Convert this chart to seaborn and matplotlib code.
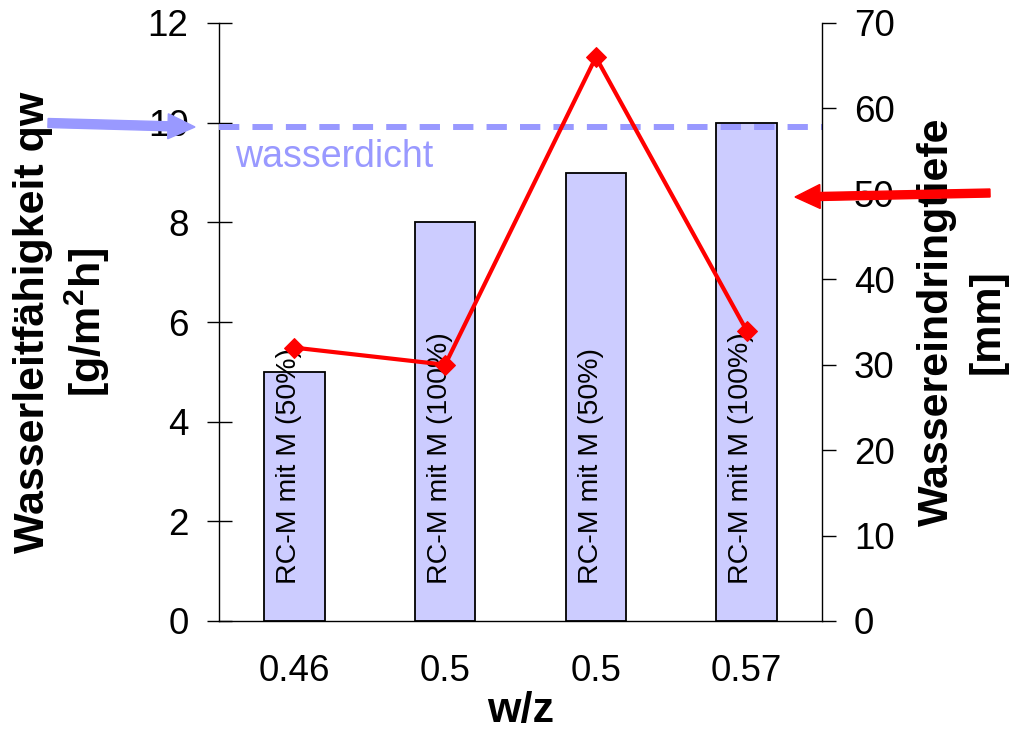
import numpy as np
import pandas as pd
import matplotlib
matplotlib.use("Agg")
import matplotlib.pyplot as plt
from matplotlib.patches import FancyArrow
import seaborn as sns

# ---- data ----
wz_labels = ["0.46", "0.5", "0.5", "0.57"]
bar_labels = ["RC-M mit M (50%)", "RC-M mit M (100%)", "RC-M mit M (50%)", "RC-M mit M (100%)"]
qw_values = [5.0, 8.0, 9.0, 10.0]           # Wasserleitfähigkeit qw [g/m²h]
depth_values = [32.0, 30.0, 66.0, 34.0]     # Wassereindringtiefe [mm]
wasserdicht_level = 9.92                    # on left axis

sns.set_style("white")
plt.rcParams["font.family"] = ["Liberation Sans", "DejaVu Sans"]
plt.rcParams.update({
    "text.color": "black", "axes.labelcolor": "black",
    "xtick.color": "black", "ytick.color": "black",
    "mathtext.fontset": "custom",
    "mathtext.rm": "Liberation Sans",
    "mathtext.bf": "Liberation Sans:bold",
})

df = pd.DataFrame({"pos": np.arange(len(qw_values)), "qw": qw_values,
                   "depth": depth_values, "probe": bar_labels})

fig = plt.figure(figsize=(10.18, 7.33), dpi=100)
ax = fig.add_axes([219/1018, 1-621/733, (822-219)/1018, (621-23)/733])

sns.barplot(data=df, x="pos", y="qw", ax=ax, color="#CCCCFF", saturation=1,
            edgecolor="black", linewidth=1.3, width=0.4, zorder=2)

ax.set_xlim(-0.5, len(qw_values) - 0.5)
ax.set_ylim(0, 12)
ax.set_yticks(np.arange(0, 13, 2))
ax.set_xticks(np.arange(len(qw_values)))
ax.set_xticklabels(wz_labels)
ax.set_xticks(np.arange(-0.5, len(qw_values), 1.0), minor=True)
ax.tick_params(axis="x", which="major", length=0, pad=24, labelsize=26.5)
ax.tick_params(axis="x", which="minor", direction="inout", length=18, width=1, color="black")
ax.tick_params(axis="y", direction="inout", length=18, width=1, color="black",
               pad=13, labelsize=26.5, left=True)

for s in ["top", "right"]:
    ax.spines[s].set_visible(False)
for s in ["left", "bottom"]:
    ax.spines[s].set_color("black")
    ax.spines[s].set_linewidth(1)

# waterproof line
ax.axhline(wasserdicht_level, color="#9999FF", lw=4.3, linestyle=(0, (3.4, 2.2)), zorder=3)
ax.text(-0.394, 9.11, "wasserdicht", color="#9999FF", fontsize=27, va="baseline", ha="left")

# bar labels
for i, lab in enumerate(bar_labels):
    ax.text(i - 0.035, 0.75, lab, rotation=90, ha="center", va="bottom", fontsize=20.5, zorder=4)

ax.set_xlabel("w/z", fontsize=31, fontweight="bold")
ax.xaxis.set_label_coords(0.5, -0.117)
ax.set_ylabel("Wasserleitfähigkeit qw\n[g/m$\\mathbf{^2}$h]", fontsize=31, fontweight="bold",
              linespacing=1.25)
ax.yaxis.set_label_coords(-0.178, 0.5)

# secondary axis
ax2 = ax.twinx()
sns.lineplot(data=df, x="pos", y="depth", ax=ax2, color="red", lw=3, marker="D",
             markersize=10, markeredgecolor="red", sort=False)
ax2.set_ylim(0, 70)
ax2.set_yticks(np.arange(0, 71, 10))
ax2.tick_params(axis="y", direction="out", length=10, width=1, color="black",
                pad=13, labelsize=26.5, right=True)
for s in ["top", "left", "bottom"]:
    ax2.spines[s].set_visible(False)
ax2.spines["right"].set_color("black")
ax2.spines["right"].set_linewidth(1)
ax2.set_ylabel("Wassereindringtiefe\n[mm]", fontsize=31, fontweight="bold", linespacing=1.35)
ax2.yaxis.set_label_coords(1.158, 0.5)

# arrows (figure inches)
H = 7.33
fig.add_artist(FancyArrow(0.48, H-1.23, 1.47, -0.04, width=0.09, head_width=0.25,
                          head_length=0.27, length_includes_head=True,
                          color="#9999FF", transform=fig.dpi_scale_trans))
fig.add_artist(FancyArrow(9.90, H-1.93, -1.95, -0.04, width=0.08, head_width=0.24,
                          head_length=0.25, length_includes_head=True,
                          color="red", transform=fig.dpi_scale_trans))

fig.savefig("out.png", dpi=100)
